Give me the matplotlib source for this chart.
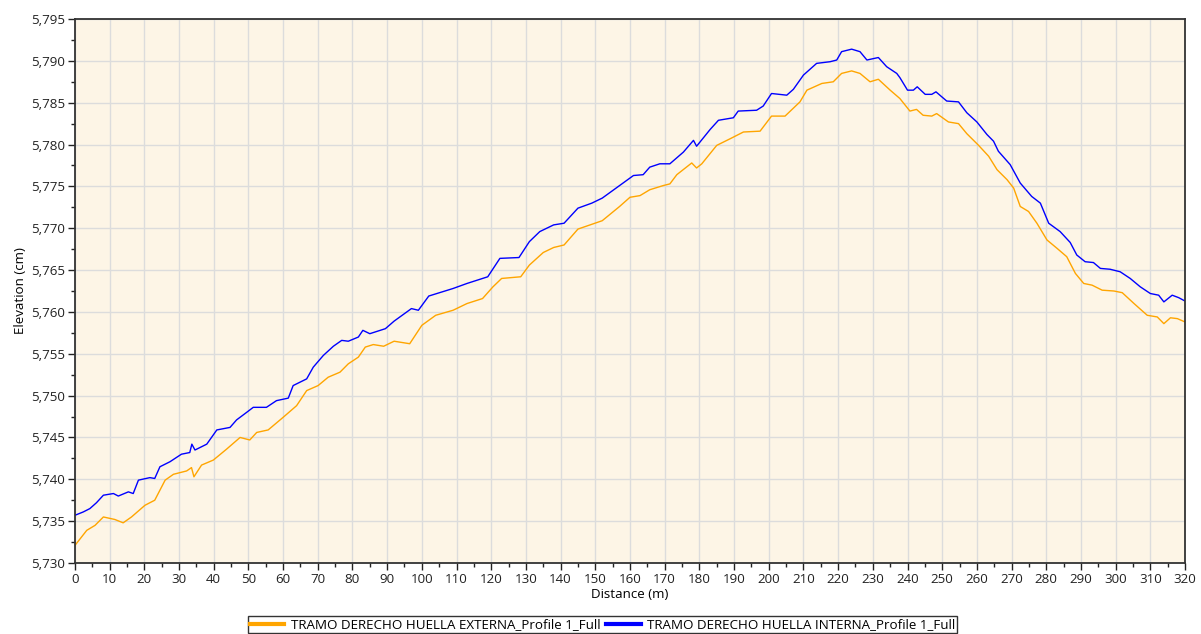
import matplotlib
matplotlib.use("Agg")
import matplotlib.pyplot as plt
from matplotlib.ticker import MultipleLocator, FuncFormatter

# perfil externo (naranja)
dist_ext = [0, 3.4, 5.8, 8.2, 11.5, 13.9, 16.3, 20.2, 23, 26, 28.4, 32.2, 33.6, 34.3, 36.5,
            39.9, 43.7, 47.6, 50.4, 52.4, 55.7, 60, 63.9, 66.8, 70.1, 73, 76.4, 78.8, 81.7,
            83.7, 86, 89, 92, 96.5, 100, 104, 109, 113, 117.5, 120.5, 123, 128.5, 131, 135,
            138, 141, 145, 152, 157, 160, 162.9, 165.7, 169.6, 171.5, 173.5, 177.8, 179.2,
            180.7, 185, 188.9, 192.7, 197.5, 200.8, 204.7, 209, 211, 215.3, 218.6, 221,
            223.9, 226.3, 229.2, 231.6, 235, 237.8, 240.7, 242.6, 244.5, 247, 248.4, 251.8,
            254.7, 257.1, 260.5, 263.4, 265.8, 268.7, 270.6, 272.5, 274.9, 277.3, 280.2,
            283.1, 285.9, 288.4, 290.8, 293.2, 296.1, 299.5, 301.9, 305.3, 309.1, 312,
            313.9, 315.8, 317.8, 320]
elev_ext = [5732.1, 5733.9, 5734.5, 5735.5, 5735.2, 5734.8, 5735.5, 5736.9, 5737.5, 5739.9,
            5740.6, 5741.0, 5741.4, 5740.3, 5741.7, 5742.3, 5743.6, 5745.0, 5744.7, 5745.6,
            5745.9, 5747.4, 5748.8, 5750.6, 5751.2, 5752.2, 5752.8, 5753.8, 5754.6, 5755.8,
            5756.1, 5755.9, 5756.5, 5756.2, 5758.4, 5759.6, 5760.2, 5761.0, 5761.6, 5763.0,
            5764.0, 5764.2, 5765.6, 5767.1, 5767.7, 5768.0, 5769.9, 5770.9, 5772.6, 5773.7,
            5773.9, 5774.6, 5775.1, 5775.3, 5776.4, 5777.8, 5777.2, 5777.7, 5779.9, 5780.7,
            5781.5, 5781.6, 5783.4, 5783.4, 5785.1, 5786.5, 5787.3, 5787.5, 5788.5, 5788.8,
            5788.5, 5787.5, 5787.8, 5786.5, 5785.5, 5784.0, 5784.2, 5783.5, 5783.4, 5783.7,
            5782.7, 5782.5, 5781.3, 5779.9, 5778.6, 5777.0, 5775.8, 5774.8, 5772.6, 5772.0,
            5770.6, 5768.6, 5767.6, 5766.6, 5764.6, 5763.4, 5763.2, 5762.6, 5762.5, 5762.3,
            5761.0, 5759.6, 5759.4, 5758.6, 5759.3, 5759.2, 5758.8]

# perfil interno (azul)
dist_int = [0, 2.4, 4.3, 6.2, 8.2, 11.1, 12.5, 15.4, 16.8, 18.3, 21.6, 23, 24.5, 27.4, 30.7,
            33.1, 33.7, 34.6, 38, 40.9, 44.7, 46.6, 49.5, 51.4, 55.2, 58.1, 61.5, 62.9, 66.8,
            68.7, 71.6, 74.5, 76.9, 78.8, 81.7, 83, 85, 89.5, 92, 97, 99, 102, 109, 113, 119,
            122.5, 128, 131, 134, 138, 141, 145, 149, 152, 157, 161, 163.8, 165.7, 168.6,
            171.5, 175.4, 178.3, 179.2, 183.1, 185.5, 189.8, 191.2, 196.5, 198.4, 200.8,
            205.2, 207.1, 210, 213.8, 217.7, 219.6, 221, 223.9, 226.3, 228.3, 231.6, 234,
            236.9, 237.8, 240, 241.7, 242.8, 245.1, 247, 248.2, 251.3, 254.7, 257.1, 260,
            262.9, 264.8, 266.2, 269.6, 272.5, 275.8, 278.3, 280.7, 284, 286.9, 288.8,
            291.2, 293.6, 295.6, 298.4, 301.3, 304.2, 307.1, 310, 312.4, 313.9, 316.3,
            318.2, 320]
elev_int = [5735.7, 5736.1, 5736.5, 5737.2, 5738.1, 5738.3, 5738.0, 5738.5, 5738.3, 5739.9,
            5740.2, 5740.1, 5741.5, 5742.1, 5743.0, 5743.2, 5744.2, 5743.5, 5744.2, 5745.9,
            5746.2, 5747.1, 5748.0, 5748.6, 5748.6, 5749.4, 5749.7, 5751.2, 5752.0, 5753.4,
            5754.8, 5755.9, 5756.6, 5756.5, 5757.0, 5757.8, 5757.4, 5758.0, 5758.9, 5760.4,
            5760.2, 5761.9, 5762.8, 5763.4, 5764.2, 5766.4, 5766.5, 5768.4, 5769.6, 5770.4,
            5770.6, 5772.4, 5773.0, 5773.6, 5775.1, 5776.3, 5776.4, 5777.3, 5777.7, 5777.7,
            5779.1, 5780.5, 5779.8, 5781.8, 5782.9, 5783.2, 5784.0, 5784.1, 5784.6, 5786.1,
            5785.9, 5786.6, 5788.3, 5789.7, 5789.9, 5790.1, 5791.1, 5791.4, 5791.1, 5790.1,
            5790.4, 5789.3, 5788.5, 5788.0, 5786.5, 5786.5, 5786.9, 5786.0, 5786.0, 5786.3,
            5785.2, 5785.1, 5783.8, 5782.7, 5781.2, 5780.4, 5779.2, 5777.6, 5775.4, 5773.8,
            5773.0, 5770.6, 5769.6, 5768.3, 5766.8, 5766.0, 5765.9, 5765.2, 5765.1, 5764.8,
            5764.0, 5763.0, 5762.2, 5762.0, 5761.2, 5762.0, 5761.7, 5761.3]

labels = ["TRAMO DERECHO HUELLA EXTERNA_Profile 1_Full",
          "TRAMO DERECHO HUELLA INTERNA_Profile 1_Full"]

plt.rcParams['font.family'] = ['Open Sans', 'DejaVu Sans']

fig = plt.figure(figsize=(12.01, 6.34), dpi=100)
ax = fig.add_axes([0.0624, 0.112, 0.9243, 0.858])
ax.set_facecolor('#fdf5e6')

ax.plot(dist_ext, elev_ext, color='#ffa500', lw=1, label=labels[0])
ax.plot(dist_int, elev_int, color='#0000ff', lw=1, label=labels[1])

ax.set_xlim(0, 320)
ax.set_ylim(5730, 5795)
ax.xaxis.set_major_locator(MultipleLocator(10))
ax.xaxis.set_minor_locator(MultipleLocator(5))
ax.yaxis.set_major_locator(MultipleLocator(5))
ax.yaxis.set_minor_locator(MultipleLocator(2.5))
ax.yaxis.set_major_formatter(FuncFormatter(lambda v, p: "{:,.0f}".format(v)))
ax.grid(True, which='major', color='#dcdcdc', lw=1)
ax.set_axisbelow(True)
ax.tick_params(which='major', length=5, width=1, labelsize=9.6, colors='#222222', pad=2)
ax.tick_params(which='minor', length=3, width=1, colors='#222222')
for s in ax.spines.values():
    s.set_color('#333333')
    s.set_linewidth(1.3)

ax.set_xlabel("Distance (m)", fontsize=9.6, labelpad=2)
ax.set_ylabel("Elevation (cm)", fontsize=9.6, labelpad=3)

leg = fig.legend(loc='upper center', bbox_to_anchor=(0.5017, 0.028), ncol=2,
                 fontsize=9.6, frameon=True, fancybox=False, handlelength=2.6,
                 handletextpad=0.5, columnspacing=0.4, borderpad=0.15, borderaxespad=0)
leg.get_frame().set_edgecolor('black')
leg.get_frame().set_linewidth(1)
for h in leg.legend_handles:
    h.set_linewidth(3)

fig.savefig("out.png", dpi=100)
